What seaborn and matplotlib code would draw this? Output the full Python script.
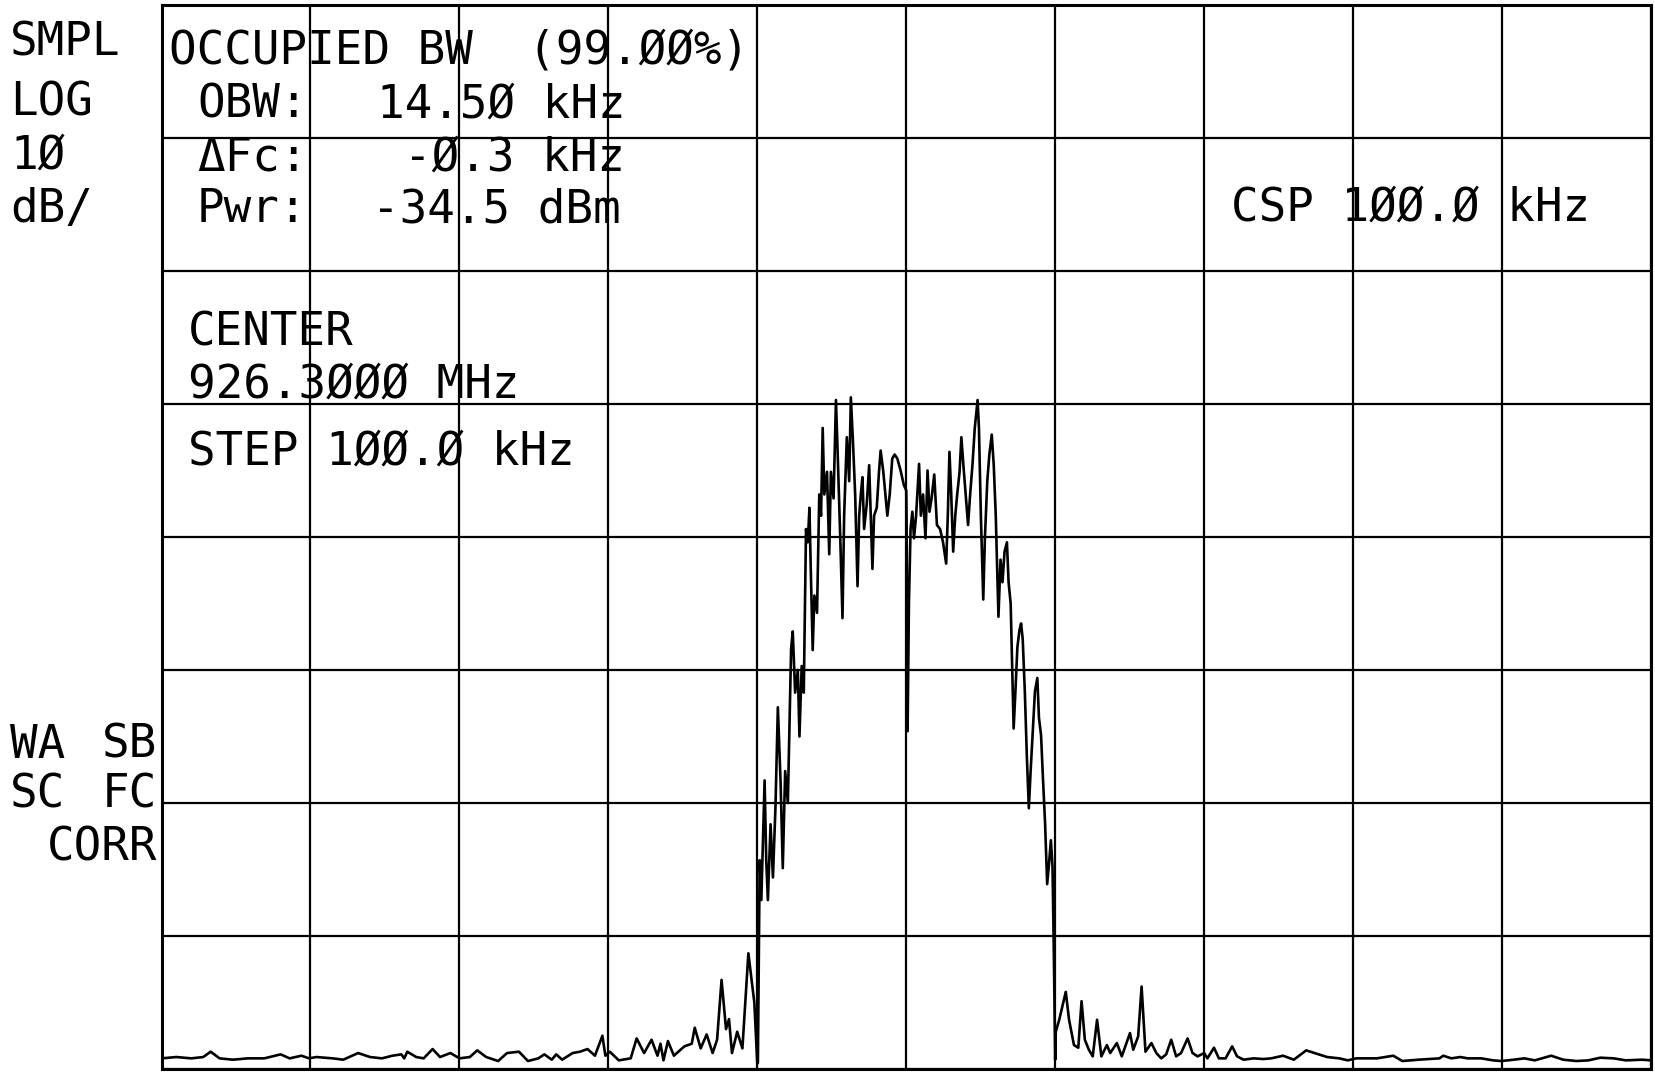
import matplotlib
matplotlib.use("Agg")
import matplotlib.pyplot as plt
import seaborn as sns
import pandas as pd

# ---------------- data ----------------
# frequency offset from centre (kHz) and displayed level (dB, top graticule = 0 dB)
freq_khz = [
    -50.0, -49.0, -48.0, -47.2, -46.7, -46.1, -45.2, -44.2, -43.1, -42.0,
    -41.4, -40.6, -40.1, -39.6, -38.5, -37.8, -36.8, -36.0, -35.2, -34.5,
    -33.9, -33.7, -33.5, -32.9, -32.4, -31.8, -31.3, -30.6, -30.0, -29.3,
    -28.8, -28.2, -27.4, -26.8, -26.0, -25.4, -24.7, -24.3, -23.8, -23.5,
    -23.1, -22.4, -21.9, -21.4, -20.9, -20.4,
    -20.2, -19.9, -19.3, -18.5, -18.1, -17.6, -17.1, -16.7, -16.5, -16.3,
    -16.0, -15.6, -14.9, -14.4, -14.2, -13.8, -13.4, -13.0, -12.7, -12.4,
    -12.1, -11.9, -11.7, -11.35, -11.0, -10.6, -10.2, -10.0,
    -9.96, -9.84, -9.73, -9.51, -9.40, -9.29, -9.11, -8.95, -8.78, -8.62,
    -8.44, -8.29, -8.13, -7.95, -7.73, -7.62, -7.46, -7.28, -7.17, -7.02,
    -6.88, -6.73, -6.61, -6.50, -6.39, -6.28, -6.17, -5.99, -5.84, -5.72,
    -5.61, -5.50, -5.32, -5.17, -5.06, -4.88, -4.72, -4.61, -4.43, -4.28,
    -4.17, -3.99, -3.83, -3.72, -3.59, -3.43, -3.27, -3.16, -3.05, -2.94,
    -2.83, -2.65, -2.49, -2.38, -2.27, -2.16, -1.98, -1.83, -1.72, -1.54,
    -1.38, -1.27, -1.11, -0.94, -0.78, -0.60, -0.38, -0.16, 0.00,
    0.02, 0.09, 0.18, 0.29, 0.41, 0.52, 0.66, 0.86, 0.98, 1.13,
    1.29, 1.43, 1.56, 1.70, 1.88, 2.06, 2.27, 2.47, 2.68, 2.79,
    2.90, 3.02, 3.15, 3.29, 3.42, 3.58, 3.70, 3.83, 3.99, 4.15,
    4.29, 4.45, 4.60, 4.79, 4.88, 5.01, 5.17, 5.28, 5.44, 5.58,
    5.74, 5.87, 6.01, 6.19, 6.33, 6.46, 6.60, 6.76, 6.87, 7.01,
    7.12, 7.21, 7.33, 7.46, 7.60, 7.71, 7.82, 7.96, 8.10, 8.23,
    8.35, 8.48, 8.64, 8.80, 8.91, 9.05, 9.18, 9.32, 9.46, 9.59,
    9.71, 9.82, 9.91, 10.0,
    10.04, 10.27, 10.71, 10.93, 11.26, 11.55, 11.77, 11.99, 12.26, 12.52,
    12.81, 13.10, 13.47, 13.69, 14.14, 14.47, 15.02, 15.24, 15.57, 15.80,
    16.06, 16.46, 16.79, 17.12, 17.45, 17.79, 18.12, 18.45, 18.89, 19.22,
    19.56, 20.0, 20.22, 20.66, 20.99, 21.44, 21.88, 22.21, 22.65, 23.32,
    23.98, 24.5, 25.3,
    26.02, 26.85, 27.41, 28.25, 29.08, 29.64, 30.2, 31.6, 32.7, 33.3,
    34.4, 35.8, 36.05, 36.6, 37.2, 37.7, 38.6, 39.4, 39.95, 40.8,
    41.5, 42.2, 43.3, 44.1, 45.0, 45.8, 46.6, 47.5, 48.3, 49.4, 50.0,
]
level_db = [
    -79.2, -79.1, -79.2, -79.1, -78.7, -79.2, -79.3, -79.2, -79.2, -78.9,
    -79.2, -79.0, -79.2, -79.1, -79.2, -79.3, -78.8, -79.1, -79.2, -79.0,
    -78.9, -79.2, -78.7, -79.1, -79.2, -78.5, -79.1, -78.8, -79.2, -79.1,
    -78.6, -79.1, -79.4, -78.8, -78.7, -79.4, -79.2, -78.9, -79.3, -78.9,
    -79.3, -78.8, -78.7, -78.5, -79.0, -77.5,
    -79.0, -78.7, -79.35, -79.2, -77.7, -78.8, -77.8, -79.0, -78.1, -79.35,
    -77.9, -79.0, -78.3, -78.1, -76.9, -78.45, -77.4, -78.8, -77.8, -73.3,
    -77.0, -76.25, -78.8, -77.2, -78.45, -71.3, -75.0, -79.6,
    -79.5, -64.3, -67.3, -58.3, -64.3, -67.3, -61.6, -65.6, -60.3, -52.8,
    -58.3, -64.9, -57.6, -60.0, -48.4, -47.1, -51.7, -50.0, -55.0, -49.7,
    -51.7, -39.4, -40.4, -37.8, -43.4, -48.5, -44.4, -45.7, -36.8, -38.4,
    -31.8, -36.8, -35.1, -41.3, -35.1, -37.1, -29.7, -33.5, -40.1, -46.1,
    -38.4, -32.5, -35.8, -29.5, -32.5, -36.8, -43.7, -38.4, -36.8, -35.5,
    -39.4, -37.5, -34.6, -38.4, -42.4, -38.4, -37.8, -35.1, -33.5, -35.1,
    -37.1, -38.4, -36.8, -34.1, -33.8, -34.1, -35.0, -36.1, -36.5,
    -38.4, -54.6, -45.0, -39.4, -38.1, -40.1, -38.4, -34.5, -38.4, -36.8,
    -40.1, -35.0, -38.1, -37.1, -35.3, -39.1, -39.4, -40.4, -42.0, -38.4,
    -33.6, -36.8, -41.1, -38.4, -36.8, -35.1, -32.5, -34.5, -36.8, -39.1,
    -36.8, -34.5, -31.8, -29.7, -31.8, -38.4, -44.7, -40.1, -35.8, -33.8,
    -32.3, -34.5, -38.4, -46.0, -41.7, -43.4, -41.1, -40.4, -43.4, -45.0,
    -50.0, -54.4, -51.6, -48.3, -47.0, -46.5, -47.7, -51.6, -56.6, -60.4,
    -57.6, -54.9, -51.6, -50.6, -53.6, -54.9, -58.2, -61.5, -66.1, -64.5,
    -62.8, -64.8, -71.4, -79.3,
    -77.2, -76.3, -74.2, -76.3, -78.2, -78.4, -74.9, -77.8, -78.55, -79.05,
    -76.3, -79.05, -78.2, -78.8, -78.05, -79.05, -77.3, -78.55, -77.55, -73.8,
    -78.7, -78.05, -78.8, -79.2, -78.9, -77.8, -79.05, -78.8, -77.7, -78.8,
    -79.05, -78.8, -79.2, -78.4, -79.2, -79.2, -78.3, -79.05, -79.3, -79.2,
    -79.25, -79.2, -79.0,
    -79.3, -78.6, -78.8, -79.1, -79.2, -79.35, -79.2, -79.2, -79.0, -79.4,
    -79.3, -79.2, -79.0, -79.2, -79.1, -79.2, -79.2, -79.35, -79.4, -79.3,
    -79.2, -79.35, -79.0, -79.3, -79.4, -79.35, -79.15, -79.2, -79.35, -79.3, -79.35,
]
x_grid = [-50, -40, -30, -20, -10, 0, 10, 20, 30, 40, 50]
y_grid = [-80, -70, -60, -50, -40, -30, -20, -10, 0]

left_labels_top = ["SMPL", "LOG", "1Ø", "dB/"]
left_labels_bottom = [("WA", "SB"), ("SC", "FC")]
corr_label = "CORR"
obw_title = "OCCUPIED BW  (99.ØØ%)"
obw_names = ["OBW:", "ΔFc:", "Pwr:"]
obw_values = ["14.5Ø kHz", "-Ø.3 kHz", "-34.5 dBm"]
csp_text = "CSP 1ØØ.Ø kHz"
center_texts = ["CENTER", "926.3ØØØ MHz", "STEP 1ØØ.Ø kHz"]

df = pd.DataFrame({"freq": freq_khz, "level": level_db})

# ---------------- figure ----------------
sns.set_style("white")
plt.rcParams["font.family"] = ["DejaVu Sans Mono", "DejaVu Sans"]

W, H = 1655, 1077
fig = plt.figure(figsize=(W / 100, H / 100), dpi=100)
fig.patch.set_facecolor("white")
ax = fig.add_axes([161.5 / W, 1 - 1069 / H, (1651 - 161.5) / W, (1069 - 5) / H])

sns.lineplot(data=df, x="freq", y="level", ax=ax, color="black",
             linewidth=1.9, estimator=None, sort=False)

ax.set_xlim(x_grid[0], x_grid[-1])
ax.set_ylim(y_grid[0], y_grid[-1])
ax.set_xticks(x_grid)
ax.set_yticks(y_grid)
ax.set_xticklabels([])
ax.set_yticklabels([])
ax.tick_params(length=0)
ax.set_xlabel("")
ax.set_ylabel("")
ax.grid(True, color="black", linewidth=1.6)
ax.set_axisbelow(True)
for sp in ax.spines.values():
    sp.set_color("black")
    sp.set_linewidth(2.2)
ax.set_facecolor("white")

fs = 33


def ptext(x, y, s, ha="left"):
    fig.text(x / W, 1 - y / H, s, ha=ha, va="center", fontsize=fs, color="black")


# left annotation column
for s, y in zip(left_labels_top, [43, 103, 156, 209]):
    ptext(10, y, s)
for (a, b), y in zip(left_labels_bottom, [745, 795]):
    ptext(10, y, a)
    ptext(157, y, b, ha="right")
ptext(157, 848, corr_label, ha="right")

# occupied bandwidth block
ptext(169, 51, obw_title)
for name, val, y, xv in zip(obw_names, obw_values, [105, 158, 210], [377, 404, 372]):
    ptext(197, y, name)
    ptext(xv, y, val)

ptext(1231, 208, csp_text)

for s, y in zip(center_texts, [333, 385, 452]):
    ptext(188, y, s)

fig.savefig("out.png", dpi=100, facecolor="white")
